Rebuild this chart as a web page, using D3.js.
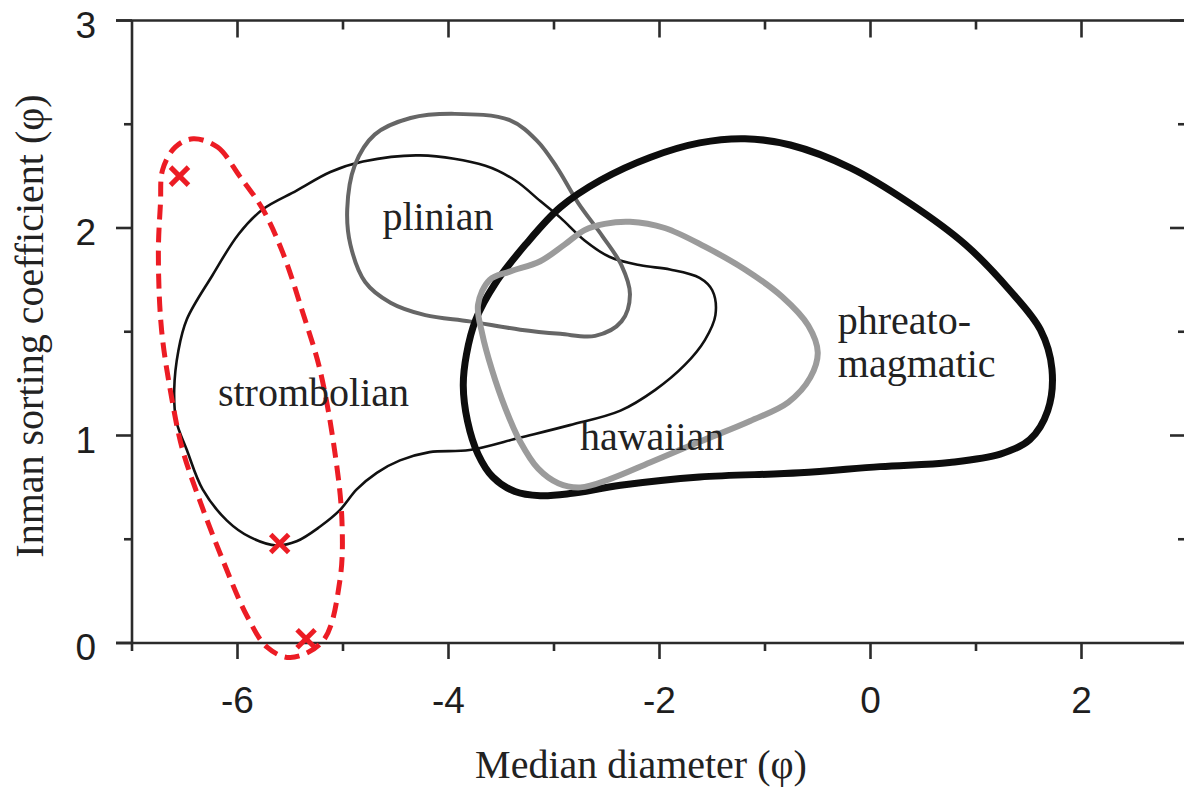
<!DOCTYPE html>
<html>
<head>
<meta charset="utf-8">
<script src="https://cdn.jsdelivr.net/npm/d3@7/dist/d3.min.js"></script>
<style>
  html, body { margin: 0; padding: 0; background: #fff; }
  svg { display: block; }
</style>
</head>
<body>
<svg id="chart" width="1184" height="790"></svg>
<script>
// Grain-size fields of eruption styles: median diameter vs Inman sorting (phi units)
const xTicksMajor = [-6, -4, -2, 0, 2];
const xTicksMinor = [-7, -5, -3, -1, 1, 3];
const yTicksMajor = [0, 1, 2, 3];
const yTicksMinor = [0.5, 1.5, 2.5];

// Field outlines, [median diameter, sorting] pairs going round each field
const strombolian = [
  [-6.60, 1.22], [-6.56, 1.41], [-6.48, 1.56], [-6.24, 1.77], [-5.99, 1.97],
  [-5.76, 2.09], [-5.44, 2.18], [-5.12, 2.27], [-4.81, 2.32], [-4.27, 2.35],
  [-3.65, 2.30], [-3.37, 2.23], [-3.13, 2.13], [-2.94, 2.05], [-2.71, 1.94],
  [-2.47, 1.86], [-2.18, 1.82], [-1.90, 1.80], [-1.62, 1.76], [-1.50, 1.70],
  [-1.47, 1.58], [-1.57, 1.46], [-1.76, 1.34], [-2.04, 1.22], [-2.37, 1.12],
  [-2.85, 1.05], [-3.32, 0.99], [-3.80, 0.93], [-4.18, 0.92], [-4.46, 0.88],
  [-4.68, 0.82], [-4.87, 0.74], [-5.03, 0.64], [-5.22, 0.56], [-5.44, 0.49],
  [-5.63, 0.47], [-5.88, 0.51], [-6.10, 0.59], [-6.33, 0.74], [-6.48, 0.93],
  [-6.58, 1.07]
];
const plinian = [
  [-3.94, 2.55], [-3.42, 2.52], [-3.16, 2.42], [-2.97, 2.29], [-2.77, 2.12],
  [-2.54, 1.96], [-2.36, 1.82], [-2.28, 1.68], [-2.36, 1.55], [-2.61, 1.48],
  [-2.94, 1.49], [-3.32, 1.51], [-3.80, 1.55], [-4.22, 1.58], [-4.55, 1.64],
  [-4.79, 1.74], [-4.93, 1.92], [-4.96, 2.09], [-4.89, 2.30], [-4.70, 2.45],
  [-4.36, 2.53]
];
const hawaiian = [
  [-3.72, 1.63], [-3.61, 1.75], [-3.42, 1.79], [-3.13, 1.84], [-2.90, 1.92],
  [-2.71, 1.99], [-2.52, 2.02], [-2.28, 2.03], [-1.95, 2.00], [-1.57, 1.91],
  [-1.19, 1.80], [-0.84, 1.67], [-0.59, 1.53], [-0.50, 1.40], [-0.57, 1.28],
  [-0.78, 1.16], [-1.14, 1.07], [-1.62, 0.97], [-2.09, 0.87], [-2.47, 0.79],
  [-2.75, 0.75], [-2.96, 0.77], [-3.15, 0.84], [-3.32, 0.97], [-3.46, 1.13],
  [-3.59, 1.32], [-3.68, 1.49]
];
const phreatomagmatic = [
  [-3.27, 1.92], [-2.94, 2.10], [-2.56, 2.23], [-2.09, 2.34], [-1.62, 2.41],
  [-1.19, 2.43], [-0.76, 2.40], [-0.19, 2.29], [0.37, 2.12], [0.90, 1.92],
  [1.32, 1.70], [1.61, 1.51], [1.72, 1.32], [1.68, 1.12], [1.51, 0.98],
  [1.23, 0.91], [0.75, 0.87], [0.09, 0.85], [-0.67, 0.82], [-1.62, 0.80],
  [-2.37, 0.76], [-2.85, 0.72], [-3.13, 0.71], [-3.37, 0.73], [-3.58, 0.80],
  [-3.72, 0.91], [-3.82, 1.07], [-3.86, 1.24], [-3.83, 1.39], [-3.74, 1.56],
  [-3.56, 1.73]
];
// Dashed envelope round the marked samples
const sampleEnvelope = [
  [-6.42, 2.43], [-6.19, 2.39], [-5.98, 2.25], [-5.76, 2.09], [-5.57, 1.88],
  [-5.38, 1.59], [-5.22, 1.32], [-5.08, 0.93], [-5.01, 0.59], [-5.03, 0.30],
  [-5.19, 0.01], [-5.50, -0.07], [-5.72, -0.02], [-5.91, 0.13], [-6.14, 0.40],
  [-6.36, 0.69], [-6.52, 0.93], [-6.62, 1.17], [-6.72, 1.51], [-6.75, 1.88],
  [-6.73, 2.12], [-6.71, 2.28], [-6.59, 2.39]
];
const samples = [[-6.55, 2.25], [-5.60, 0.48], [-5.35, 0.02]];

const fieldLabels = [
  { text: "plinian", x: -4.10, y: 1.99, anchor: "middle" },
  { text: "strombolian", x: -5.28, y: 1.14, anchor: "middle" },
  { text: "hawaiian", x: -2.07, y: 0.93, anchor: "middle" },
  { text: "phreato-", x: -0.31, y: 1.49, anchor: "start" },
  { text: "magmatic", x: -0.31, y: 1.28, anchor: "start" }
];

const svg = d3.select("#chart");
const x = d3.scaleLinear().domain([-7, 3]).range([132, 1187]);
const y = d3.scaleLinear().domain([0, 3]).range([643, 20.5]);

const axisColor = "#2b2b2b";
const sansFont = "'Liberation Sans', Arial, sans-serif";
const serifFont = "'Liberation Serif', 'Times New Roman', serif";

const line = d3.line()
  .x(d => x(d[0]))
  .y(d => y(d[1]))
  .curve(d3.curveCatmullRomClosed.alpha(0.5));

const g = svg.append("g");

// frame lines
const frame = g.append("g").attr("stroke", axisColor).attr("stroke-width", 2.6).attr("fill", "none");
frame.append("line").attr("x1", x(-7) - 16).attr("x2", x(3)).attr("y1", y(0)).attr("y2", y(0));
frame.append("line").attr("x1", x(-7) - 16).attr("x2", x(3)).attr("y1", y(3)).attr("y2", y(3));
frame.append("line").attr("x1", x(-7)).attr("x2", x(-7)).attr("y1", y(3)).attr("y2", y(0) + 8);
frame.append("line").attr("x1", x(3)).attr("x2", x(3)).attr("y1", y(3)).attr("y2", y(0));

// ticks: bottom outward, top inward
const ticks = g.append("g").attr("stroke", axisColor).attr("stroke-width", 2.6);
xTicksMajor.forEach(d => {
  ticks.append("line").attr("x1", x(d)).attr("x2", x(d)).attr("y1", y(0)).attr("y2", y(0) + 16);
  ticks.append("line").attr("x1", x(d)).attr("x2", x(d)).attr("y1", y(3)).attr("y2", y(3) + 17);
});
xTicksMinor.filter(d => d > -7).forEach(d => {
  ticks.append("line").attr("x1", x(d)).attr("x2", x(d)).attr("y1", y(0)).attr("y2", y(0) + 8);
  ticks.append("line").attr("x1", x(d)).attr("x2", x(d)).attr("y1", y(3)).attr("y2", y(3) + 9);
});
// left outward, right inward
yTicksMajor.forEach(d => {
  ticks.append("line").attr("x1", x(-7) - 16).attr("x2", x(-7)).attr("y1", y(d)).attr("y2", y(d));
  ticks.append("line").attr("x1", x(3) - 17).attr("x2", x(3)).attr("y1", y(d)).attr("y2", y(d));
});
yTicksMinor.forEach(d => {
  ticks.append("line").attr("x1", x(-7) - 8).attr("x2", x(-7)).attr("y1", y(d)).attr("y2", y(d));
  ticks.append("line").attr("x1", x(3) - 9).attr("x2", x(3)).attr("y1", y(d)).attr("y2", y(d));
});

// tick labels
g.append("g").selectAll("text").data(xTicksMajor).join("text")
  .attr("x", d => x(d)).attr("y", y(0) + 70)
  .attr("text-anchor", "middle")
  .attr("font-family", sansFont).attr("font-size", 37).attr("fill", "#1e1e1e")
  .text(d => String(d));
g.append("g").selectAll("text").data(yTicksMajor).join("text")
  .attr("x", 96).attr("y", d => y(d) + 17)
  .attr("text-anchor", "end")
  .attr("font-family", sansFont).attr("font-size", 37).attr("fill", "#1e1e1e")
  .text(d => String(d));

// axis titles
g.append("text")
  .attr("x", 641).attr("y", 778)
  .attr("text-anchor", "middle")
  .attr("font-family", serifFont).attr("font-size", 40).attr("fill", "#222")
  .text("Median diameter (φ)");
g.append("text")
  .attr("transform", "translate(43,326) rotate(-90)")
  .attr("text-anchor", "middle")
  .attr("font-family", serifFont).attr("font-size", 40).attr("fill", "#222")
  .text("Inman sorting coefficient (φ)");

// fields
const fields = [
  { pts: strombolian, color: "#111", width: 2.6 },
  { pts: plinian, color: "#666", width: 4 },
  { pts: phreatomagmatic, color: "#0d0d0d", width: 7 },
  { pts: hawaiian, color: "#9b9b9b", width: 6 }
];
g.append("g").selectAll("path").data(fields).join("path")
  .attr("d", d => line(d.pts))
  .attr("fill", "none")
  .attr("stroke", d => d.color)
  .attr("stroke-width", d => d.width)
  .attr("stroke-linejoin", "round");

// dashed envelope and sample crosses
const red = "#ec1c24";
g.append("path")
  .attr("d", line(sampleEnvelope))
  .attr("fill", "none")
  .attr("stroke", red)
  .attr("stroke-width", 5)
  .attr("stroke-dasharray", "15 8");

const cross = g.append("g").attr("stroke", red).attr("stroke-width", 5).attr("stroke-linecap", "butt");
samples.forEach(d => {
  const cx = x(d[0]), cy = y(d[1]), r = 9;
  cross.append("line").attr("x1", cx - r).attr("y1", cy - r).attr("x2", cx + r).attr("y2", cy + r);
  cross.append("line").attr("x1", cx - r).attr("y1", cy + r).attr("x2", cx + r).attr("y2", cy - r);
});

// field names
g.append("g").selectAll("text").data(fieldLabels).join("text")
  .attr("x", d => x(d.x)).attr("y", d => y(d.y))
  .attr("text-anchor", d => d.anchor)
  .attr("font-family", serifFont).attr("font-size", 40).attr("fill", "#222")
  .text(d => d.text);
</script>
</body>
</html>
